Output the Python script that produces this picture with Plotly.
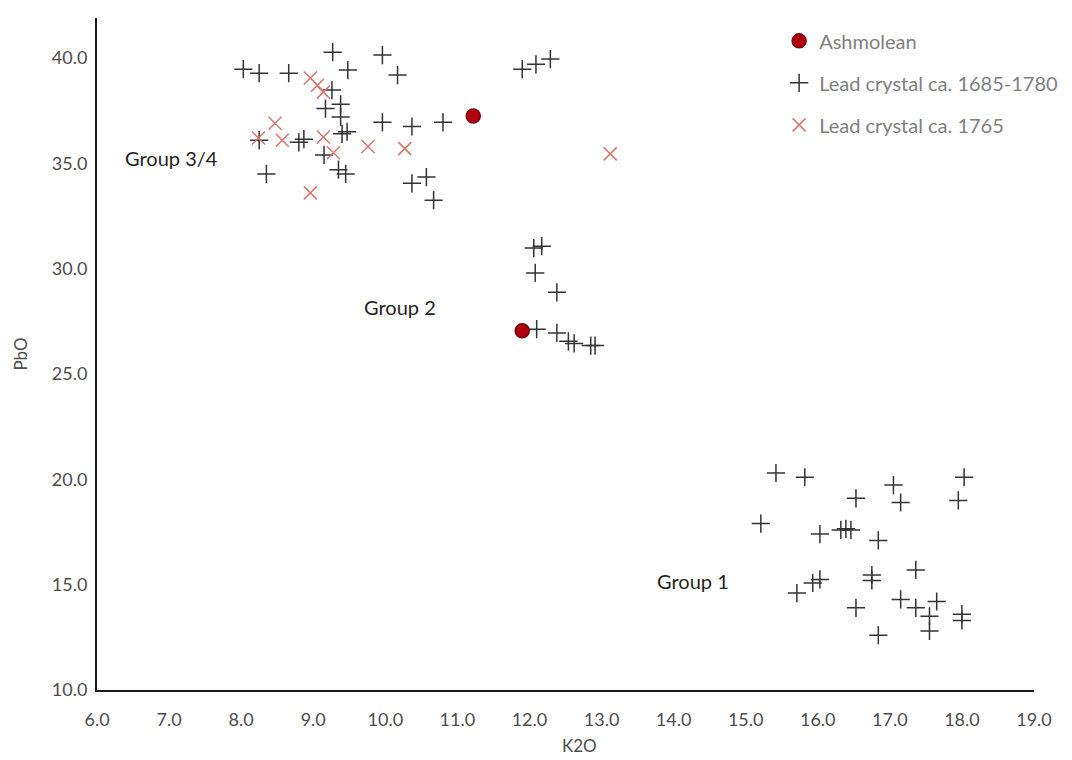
import plotly.graph_objects as go

# K2O / PbO compositions (wt%)
ashmolean_k2o = [11.22, 11.90]
ashmolean_pbo = [37.25, 27.05]

crystal_1685_1780_k2o = [
    8.03, 8.25, 8.66, 9.27, 9.48, 9.96, 10.17, 9.26,
    9.17, 9.38, 9.38, 9.40, 9.47,
    8.25, 8.80, 8.87, 8.35, 9.15, 9.35, 9.45,
    9.96, 10.37, 10.80, 10.37, 10.57, 10.67,
    11.90, 12.09, 12.29,
    12.06, 12.17, 12.08, 12.38, 12.10, 12.38, 12.54, 12.62, 12.85, 12.91,
    15.42, 15.82, 17.05, 18.03, 16.53, 17.15, 17.95, 15.21, 16.03,
    16.32, 16.39, 16.46, 16.84, 16.75, 16.75, 17.36, 16.03, 15.93,
    15.71, 16.53, 17.15, 17.36, 17.65, 17.55, 17.55, 16.84, 18.00, 18.00,
]
crystal_1685_1780_pbo = [
    39.47, 39.28, 39.28, 40.28, 39.43, 40.14, 39.19, 38.48,
    37.60, 37.80, 37.20, 36.40, 36.50,
    36.10, 36.00, 36.15, 34.50, 35.40, 34.70, 34.50,
    36.95, 36.75, 36.95, 34.05, 34.35, 33.25,
    39.47, 39.70, 39.95,
    30.98, 31.07, 29.80, 28.88, 27.13, 26.95, 26.55, 26.45, 26.35, 26.35,
    20.30, 20.10, 19.73, 20.10, 19.10, 18.90, 19.00, 17.90, 17.40,
    17.60, 17.65, 17.60, 17.10, 15.46, 15.20, 15.70, 15.25, 15.08,
    14.60, 13.90, 14.30, 13.90, 14.20, 13.50, 12.80, 12.60, 13.60, 13.30,
]

crystal_1765_k2o = [8.96, 9.06, 9.14, 8.47, 8.24, 8.57, 9.14, 9.28, 8.96, 9.76, 10.27, 13.12]
crystal_1765_pbo = [39.05, 38.71, 38.38, 36.90, 36.20, 36.10, 36.25, 35.50, 33.60, 35.80, 35.70, 35.45]

group_labels = ["Group 3/4", "Group 2", "Group 1"]
group_label_k2o = [7.03, 10.21, 14.27]
group_label_pbo = [35.25, 28.2, 15.17]

x_ticks = [6.0 + i for i in range(14)]
y_ticks = [10.0, 15.0, 20.0, 25.0, 30.0, 35.0, 40.0]

FONT = "Lato, Carlito, Calibri, sans-serif"
TICK_COLOR = "#4d4d4d"

fig = go.Figure()

fig.add_trace(go.Scatter(
    x=crystal_1685_1780_k2o, y=crystal_1685_1780_pbo,
    mode="markers", name="Lead crystal ca. 1685-1780",
    legendgroup="b", legendrank=2,
    marker=dict(symbol="cross-thin", size=13, color="#333333",
                line=dict(width=1.5, color="#333333")),
))
fig.add_trace(go.Scatter(
    x=crystal_1765_k2o, y=crystal_1765_pbo,
    mode="markers", name="Lead crystal ca. 1765",
    legendgroup="c", legendrank=3,
    marker=dict(symbol="x-thin", size=13, color="#d8776c",
                line=dict(width=1.5, color="#d8776c")),
))
fig.add_trace(go.Scatter(
    x=ashmolean_k2o, y=ashmolean_pbo,
    mode="markers", name="Ashmolean",
    legendgroup="a", legendrank=1,
    marker=dict(symbol="circle", size=14, color="#b00010",
                line=dict(width=1.5, color="#7a0008")),
))

for text, gx, gy in zip(group_labels, group_label_k2o, group_label_pbo):
    fig.add_annotation(x=gx, y=gy, text=text, showarrow=False,
                       font=dict(family=FONT, size=20, color="#1f1f1f"))

# x-axis title placed as a paper annotation below the tick labels
fig.add_annotation(x=0.515, y=-0.082, xref="paper", yref="paper", text="K2O",
                   showarrow=False, yanchor="middle",
                   font=dict(family=FONT, size=17, color=TICK_COLOR))

fig.update_layout(
    width=1072, height=760,
    margin=dict(l=97, r=38, t=18, b=70, autoexpand=False),
    paper_bgcolor="white", plot_bgcolor="white",
    font=dict(family=FONT, color=TICK_COLOR),
    showlegend=True,
    legend=dict(
        x=0.728, y=0.995, xanchor="left", yanchor="top",
        font=dict(family=FONT, size=20, color="#808080"),
        bgcolor="rgba(0,0,0,0)", tracegroupgap=13,
        itemsizing="trace", itemwidth=30,
    ),
)

fig.update_xaxes(
    range=[6, 19], tickvals=x_ticks, ticktext=[f"{v:.1f}" for v in x_ticks],
    showgrid=False, zeroline=False, showline=True, linecolor="#1a1a1a", linewidth=2,
    automargin=False,
    ticks="", tickfont=dict(family=FONT, size=18, color=TICK_COLOR), ticklabelstandoff=12,
)
fig.update_yaxes(
    range=[10, 41.9], tickvals=y_ticks, ticktext=[f"{v:.1f}" for v in y_ticks],
    showgrid=False, zeroline=False, showline=True, linecolor="#1a1a1a", linewidth=2,
    automargin=False,
    ticks="", tickfont=dict(family=FONT, size=18, color=TICK_COLOR), ticklabelstandoff=4,
    title=dict(text="PbO", font=dict(family=FONT, size=17, color=TICK_COLOR), standoff=20),
)

fig.write_html("out.html")
